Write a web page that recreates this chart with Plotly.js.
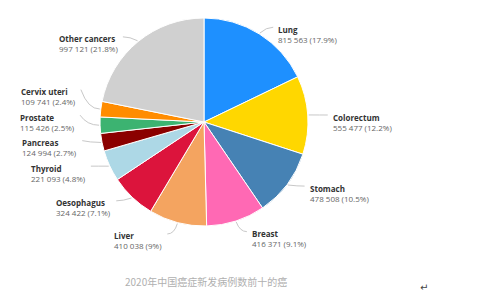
<!DOCTYPE html>
<html>
<head>
<meta charset="utf-8">
<script src="https://cdn.plot.ly/plotly-3.0.1.min.js"></script>
<style>html,body{margin:0;padding:0;background:#fff;}#chart{width:480px;height:300px;}</style>
</head>
<body>
<div id="chart"></div>
<script>
const categories = ["Lung", "Colorectum", "Stomach", "Breast", "Liver", "Oesophagus",
  "Thyroid", "Pancreas", "Prostate", "Cervix uteri", "Other cancers"];
const newCases = [815563, 555477, 478508, 416371, 410038, 324422,
  221093, 124994, 115426, 109741, 997121];
const sliceColors = ["#1e90ff", "#ffd700", "#4682b4", "#ff69b4", "#f4a460", "#dc143c",
  "#add8e6", "#8b0000", "#3cb371", "#ff8c00", "#d0d0d0"];
const chartTitle = "2020年中国癌症新发病例数前十的癌";

const W = 480, H = 300;
const cx = 204, cy = 122, R = 104;
const dom = {x: [(cx - R) / W, (cx + R) / W], y: [1 - (cy + R) / H, 1 - (cy - R) / H]};

const total = newCases.reduce((a, b) => a + b, 0);
const fmtNum = v => String(v).replace(/\B(?=(\d{3})+(?!\d))/g, ' ');
const fmtPct = v => (v / total * 100).toFixed(1).replace(/\.0$/, '') + '%';

// label layout from slice mid-angles
const L1 = 13, L2 = 10, GAP = 25.5;
let cum = 0;
const labels = newCases.map((v, i) => {
  const mid = (cum + v / 2) / total; cum += v;
  const a = mid * 2 * Math.PI;
  const dx = Math.sin(a), dy = -Math.cos(a);
  const ry = R + L1 * Math.pow(Math.abs(dy), 3);
  return {i, dx, dy, right: dx >= 0,
    ex: cx + (R + 1) * dx, ey: cy + (R + 1) * dy,
    bx: cx + (R + L1) * dx, by: cy + ry * dy,
    y: cy + ry * dy};
});
// resolve overlaps per side, pushing upward from the bottom
[true, false].forEach(side => {
  const s = labels.filter(l => l.right === side).sort((a, b) => b.y - a.y);
  for (let k = 1; k < s.length; k++) {
    if (s[k - 1].y - s[k].y < GAP) s[k].y = s[k - 1].y - GAP;
  }
});

const px = x => x / W, py = y => 1 - y / H;
const annotations = [], shapes = [];
labels.forEach(l => {
  const lx = l.bx + (l.right ? L2 : -L2);
  annotations.push({
    xref: 'paper', yref: 'paper', x: px(lx), y: py(l.y - 5.5),
    xanchor: l.right ? 'left' : 'right', yanchor: 'top', align: 'left',
    showarrow: false,
    text: '<b style="color:#333">' + categories[l.i] + '</b><br><span style="color:#666">' +
      fmtNum(newCases[l.i]) + ' (' + fmtPct(newCases[l.i]) + ')</span>',
    font: {family: 'Open Sans, sans-serif', size: 8, color: '#555'}
  });
  const endX = lx + (l.right ? -3 : 3);
  shapes.push({
    type: 'path', xref: 'paper', yref: 'paper',
    path: 'M' + px(l.ex) + ',' + py(l.ey) + ' Q' + px(l.bx) + ',' + py(l.by) + ' ' +
      px(endX) + ',' + py(l.y),
    line: {color: '#c8c8c8', width: 1}
  });
});
annotations.push({
  xref: 'paper', yref: 'paper', x: px(206), y: py(281), xanchor: 'center', yanchor: 'middle',
  showarrow: false, text: chartTitle,
  font: {family: 'Noto Sans CJK SC, sans-serif', size: 10, color: '#b0b0b0'}
});
annotations.push({
  xref: 'paper', yref: 'paper', x: px(424), y: py(287), xanchor: 'center', yanchor: 'middle',
  showarrow: false, text: '↵', font: {family: 'DejaVu Sans, sans-serif', size: 10, color: '#444'}
});

Plotly.newPlot('chart', [{
  type: 'pie', labels: categories, values: newCases, sort: false, direction: 'clockwise',
  rotation: 0, textinfo: 'none', hoverinfo: 'skip', domain: dom,
  marker: {colors: sliceColors, line: {color: '#ffffff', width: 1}}
}], {
  width: W, height: H, margin: {l: 0, r: 0, t: 0, b: 0}, showlegend: false,
  paper_bgcolor: '#ffffff', annotations, shapes
}, {staticPlot: true});
</script>
</body>
</html>
